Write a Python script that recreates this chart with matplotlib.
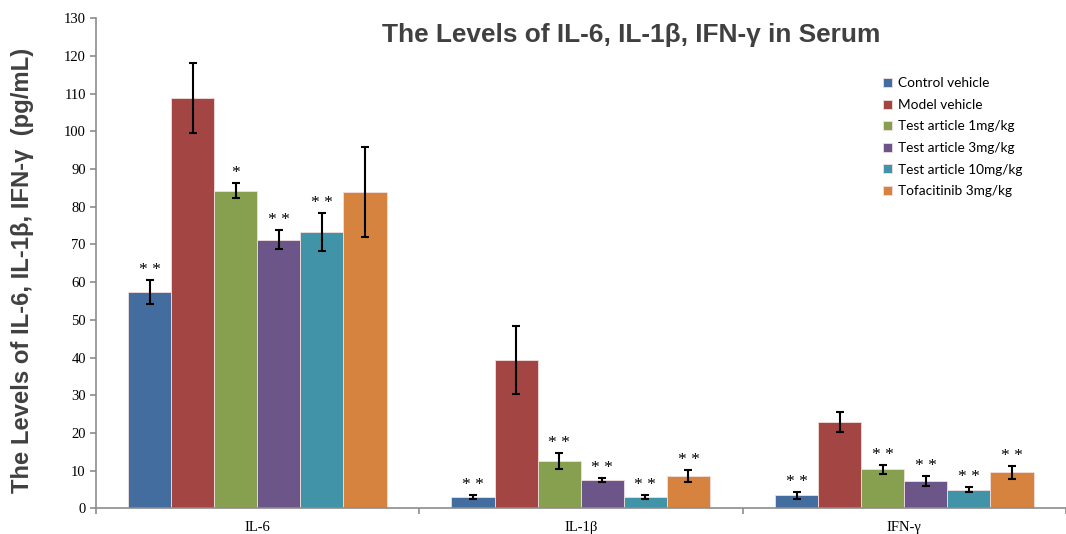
import numpy as np
import matplotlib.pyplot as plt

categories = ['IL-6', 'IL-1β', 'IFN-γ']
groups = ['Control vehicle', 'Model vehicle', 'Test article 1mg/kg',
          'Test article 3mg/kg', 'Test article 10mg/kg', 'Tofacitinib 3mg/kg']

control = [57.3, 3.0, 3.5]
control_err = [3.2, 0.6, 0.9]
model = [108.8, 39.3, 22.9]
model_err = [9.3, 9.0, 2.6]
test_1 = [84.3, 12.6, 10.3]
test_1_err = [1.9, 2.1, 1.2]
test_3 = [71.3, 7.5, 7.3]
test_3_err = [2.6, 0.5, 1.3]
test_10 = [73.3, 3.0, 4.9]
test_10_err = [5.0, 0.55, 0.7]
tofa = [83.9, 8.5, 9.5]
tofa_err = [12.0, 1.65, 1.7]

control_sig = ['**', '**', '**']
model_sig = ['', '', '']
test_1_sig = ['*', '**', '**']
test_3_sig = ['**', '**', '**']
test_10_sig = ['**', '**', '**']
tofa_sig = ['', '**', '**']

colors = ['#436c9f', '#a24543', '#87a04f', '#6c5589', '#4194a8', '#d5833f']

values = [control, model, test_1, test_3, test_10, tofa]
errors = [control_err, model_err, test_1_err, test_3_err, test_10_err, tofa_err]
sigs = [control_sig, model_sig, test_1_sig, test_3_sig, test_10_sig, tofa_sig]

fig = plt.figure(figsize=(10.66, 5.34), dpi=100)
ax = fig.add_axes([95.5/1066, (534-508.3)/534, (1066-95.5)/1066, 490/534])

x = np.arange(len(categories))
w = 0.1332
for i in range(len(groups)):
    pos = x + (i - 2.5) * w
    ax.bar(pos, values[i], w, color=colors[i], edgecolor='#f2dede', linewidth=0.6,
           label=groups[i], zorder=2)
    ax.errorbar(pos, values[i], yerr=errors[i], fmt='none', ecolor='black',
                elinewidth=1.5, capsize=3, capthick=1.5, zorder=3)
    for j in range(len(categories)):
        if sigs[i][j]:
            ax.annotate(' '.join(sigs[i][j]), (pos[j], values[i][j] + errors[i][j]),
                        xytext=(0, 1.5), textcoords='offset points', ha='center', va='bottom',
                        fontsize=12.5, family='Liberation Serif')

ax.set_ylim(0, 130)
ax.set_xlim(-0.5, 2.488)
ax.set_yticks(range(0, 131, 10))
ax.set_yticklabels([str(v) for v in range(0, 131, 10)], family='Liberation Serif', fontsize=10.5)
ax.tick_params(axis='y', length=4, color='#8c8c8c', width=1.2, pad=3)
ax.set_xticks([-0.5, 0.5, 1.5, 2.5])
ax.set_xticklabels([])
ax.tick_params(axis='x', which='major', length=4, color='#8c8c8c', width=1.2)
ax.set_xticks(x, minor=True)
ax.set_xticklabels(categories, minor=True, family='Liberation Serif', fontsize=10.5)
ax.tick_params(axis='x', which='minor', length=0, pad=9)
for s in ['top', 'right']:
    ax.spines[s].set_visible(False)
for s in ['left', 'bottom']:
    ax.spines[s].set_color('#8c8c8c')
    ax.spines[s].set_linewidth(1.2)

fig.text(631/1066, 1 - 42/534, 'The Levels of IL-6, IL-1β, IFN-γ in Serum', ha='center',
         va='baseline', fontsize=18.9, fontweight='bold', color='#404040', family='Liberation Sans')
fig.text(23/1066, 263.3/534, 'The Levels of IL-6, IL-1β, IFN-γ  (pg/mL)', rotation=90,
         ha='center', va='center', fontsize=17.2, fontweight='bold', color='#404040',
         family='Liberation Sans')

fig.legend(loc='upper left', bbox_to_anchor=(878/1066, 1 - 72/534), frameon=False,
           prop={'family': 'Lato', 'size': 9.8}, handlelength=0.65, handleheight=0.65,
           handletextpad=0.4, labelspacing=0.7, borderaxespad=0)

fig.savefig('out.png', dpi=100)
